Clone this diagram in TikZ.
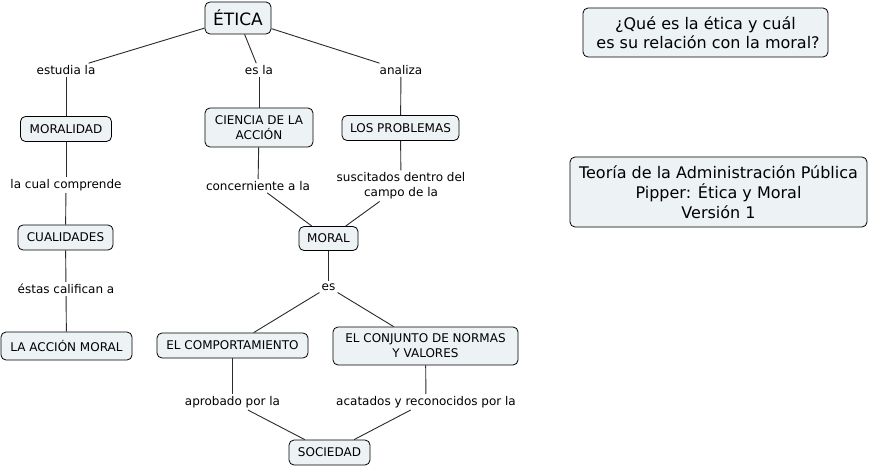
\documentclass[tikz,border=0pt]{standalone}
\usepackage{fontspec}
\setmainfont{DejaVu Sans}
\definecolor{cfill}{HTML}{EDF3F5}
\definecolor{cline}{HTML}{2A2A2A}
\begin{document}
\begin{tikzpicture}[x=1pt,y=-1pt,
  concept/.style={draw=black, fill=cfill, rounded corners=5pt, line width=0.8pt,
    align=center, inner sep=1pt, font=\fontsize{12}{15}\selectfont},
  link/.style={align=center, inner xsep=2pt, inner ysep=2pt, font=\fontsize{12}{15}\selectfont},
  conn/.style={draw=cline, line width=0.9pt}]
\useasboundingbox (0,0) rectangle (870,468);
\fill[white] (0,0) rectangle (870,468);

% concepts
\node[concept, minimum width=66pt, minimum height=32pt, font=\fontsize{17}{19}\selectfont] (etica) at (238,18) {ÉTICA};
\node[concept, minimum width=91pt, minimum height=25pt] (moralidad) at (66,129) {MORALIDAD};
\node[concept, minimum width=108pt, minimum height=39pt] (ciencia) at (259,127.5) {CIENCIA DE LA\\ACCIÓN};
\node[concept, minimum width=117pt, minimum height=25pt] (problemas) at (400.5,128) {LOS PROBLEMAS};
\node[concept, minimum width=59pt, minimum height=24pt] (moral) at (328.5,238.5) {MORAL};
\node[concept, minimum width=95pt, minimum height=25pt] (cualidades) at (65.5,237.5) {CUALIDADES};
\node[concept, minimum width=131pt, minimum height=28pt] (accion) at (66.5,346) {LA ACCIÓN MORAL};
\node[concept, minimum width=151pt, minimum height=25pt] (comport) at (232.5,345.5) {EL COMPORTAMIENTO};
\node[concept, minimum width=185pt, minimum height=38pt] (conjunto) at (425.5,346) {EL CONJUNTO DE NORMAS\\Y VALORES};
\node[concept, minimum width=81pt, minimum height=25pt] (sociedad) at (329.5,452.5) {SOCIEDAD};
\node[concept, minimum width=245pt, minimum height=49pt, font=\fontsize{16}{19}\selectfont] (pregunta) at (705.5,32.5) {¿Qué es la ética y cuál\\\ es su relación con la moral?};
\node[concept, minimum width=297pt, minimum height=70pt, font=\fontsize{16}{20}\selectfont] (titulo) at (718.5,192) {Teoría de la Administración Pública\\Pipper: Ética y Moral\\Versión 1};

% linking phrases
\node[link] (estudia) at (66,70) {estudia la};
\node[link] (esla) at (259,70) {es la};
\node[link] (analiza) at (401,70) {analiza};
\node[link] (cual) at (66,185) {la cual comprende};
\node[link] (concern) at (258,186) {concerniente a la};
\node[link] (suscit) at (401,186) {suscitados dentro del\\campo de la};
\node[link] (estas) at (66,289) {éstas califican a};
\node[link] (es) at (328.5,287) {es};
\node[link] (aprob) at (232.5,402) {aprobado por la};
\node[link] (acat) at (426,402) {acatados y reconocidos por la};

% connectors
\draw[conn] (etica) -- (estudia);
\draw[conn] (estudia) -- (moralidad);
\draw[conn] (etica) -- (esla);
\draw[conn] (esla) -- (ciencia);
\draw[conn] (etica) -- (analiza);
\draw[conn] (analiza) -- (problemas);
\draw[conn] (moralidad) -- (cual);
\draw[conn] (cual) -- (cualidades);
\draw[conn] (cualidades) -- (estas);
\draw[conn] (estas) -- (accion);
\draw[conn] (ciencia) -- (concern);
\draw[conn] (concern) -- (moral);
\draw[conn] (problemas) -- (suscit);
\draw[conn] (suscit) -- (moral);
\draw[conn] (moral) -- (es);
\draw[conn] (es) -- (comport);
\draw[conn] (es) -- (conjunto);
\draw[conn] (comport) -- (aprob);
\draw[conn] (aprob) -- (sociedad);
\draw[conn] (conjunto) -- (acat);
\draw[conn] (acat) -- (sociedad);
\end{tikzpicture}
\end{document}
